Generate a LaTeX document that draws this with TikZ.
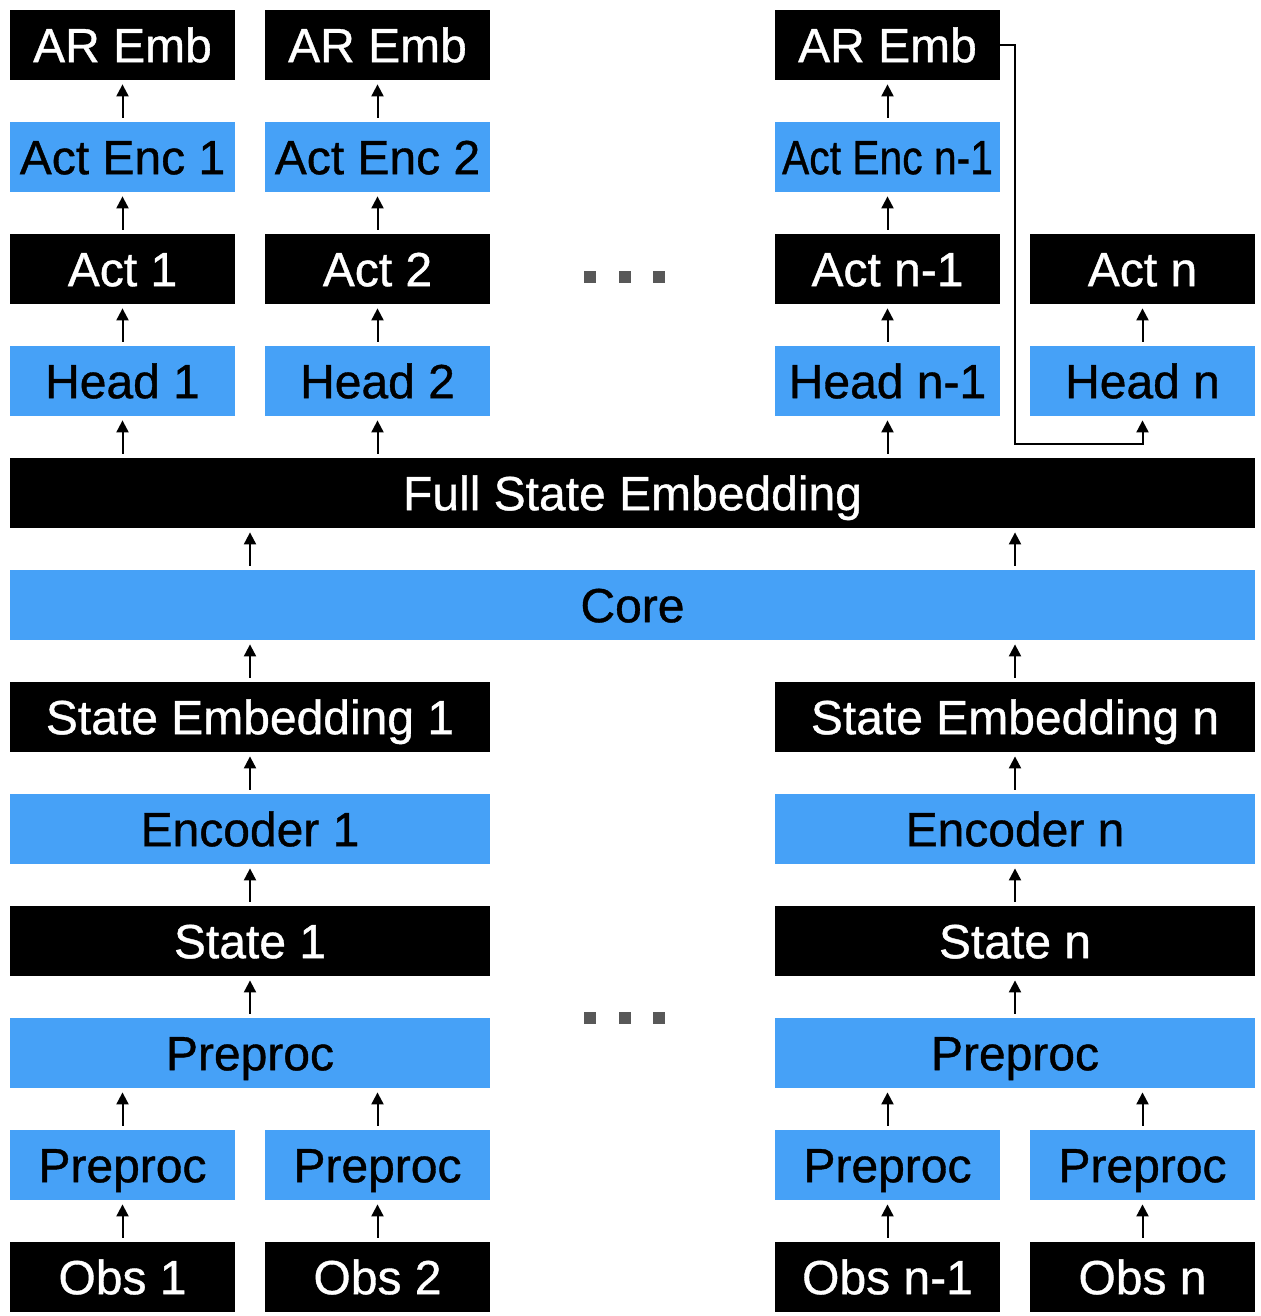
\documentclass[tikz,border=0pt]{standalone}
\usepackage{fontspec}
\setmainfont{Liberation Sans}
\newfontfamily\boxfont[FakeBold=0.8]{Liberation Sans}
\usetikzlibrary{arrows.meta}
\definecolor{boxblue}{RGB}{70,161,247}
\definecolor{dotgray}{RGB}{88,88,88}

\begin{document}
\begin{tikzpicture}[x=0.5pt, y=-0.5pt,
		blk/.style={fill=black, text=white, minimum width=112.5pt, minimum height=35pt, inner sep=0pt, text height=17.2pt, text depth=0pt, font=\boxfont\fontsize{24}{28}\selectfont},
		blu/.style={blk, fill=boxblue, text=black},
		wide/.style={minimum width=240pt},
		full/.style={minimum width=622.5pt},
		up/.style={-{Triangle[length=6pt,width=6pt]}, line width=1pt, shorten <=2pt, shorten >=2pt},
		link/.style={up, shorten <=0pt},
		dotsq/.style={fill=dotgray, minimum size=6pt, inner sep=0pt}]
			%%%%% START %%%%%
			\useasboundingbox (0,0) rectangle (1260,1316);
			
			% action columns
			\node[blk] (ar1) at (122.5,45) {AR Emb};
			\node[blu] (ae1) at (122.5,157) {Act Enc 1};
			\node[blk] (act1) at (122.5,269) {Act 1};
			\node[blu] (hd1) at (122.5,381) {Head 1};
			
			\node[blk] (ar2) at (377.5,45) {AR Emb};
			\node[blu] (ae2) at (377.5,157) {Act Enc 2};
			\node[blk] (act2) at (377.5,269) {Act 2};
			\node[blu] (hd2) at (377.5,381) {Head 2};
			
			\node[blk] (ar3) at (887.5,45) {AR Emb};
			\node[blu] (ae3) at (887.5,157) {\scalebox{0.85}[1]{Act Enc n-1}};
			\node[blk] (act3) at (887.5,269) {Act n-1};
			\node[blu] (hd3) at (887.5,381) {Head n-1};
			
			\node[blk] (act4) at (1142.5,269) {Act n};
			\node[blu] (hd4) at (1142.5,381) {Head n};
			
			\node[dotsq] (da1) at (590,277) {};
			\node[dotsq] (da2) at (624.5,277) {};
			\node[dotsq] (da3) at (659,277) {};
			
			% shared part
			\node[blk, full] (fse) at (632.5,493) {Full State Embedding};
			\node[blu, full] (core) at (632.5,605) {Core};
			
			% observation columns
			\node[blk, wide] (se1) at (250,717) {State Embedding 1};
			\node[blu, wide] (enc1) at (250,829) {Encoder 1};
			\node[blk, wide] (st1) at (250,941) {State 1};
			\node[blu, wide] (pre1) at (250,1053) {Preproc};
			\node[blu] (pp1) at (122.5,1165) {Preproc};
			\node[blu] (pp2) at (377.5,1165) {Preproc};
			\node[blk] (obs1) at (122.5,1277) {Obs 1};
			\node[blk] (obs2) at (377.5,1277) {Obs 2};
			
			\node[blk, wide] (se2) at (1015,717) {State Embedding n};
			\node[blu, wide] (enc2) at (1015,829) {Encoder n};
			\node[blk, wide] (st2) at (1015,941) {State n};
			\node[blu, wide] (pre2) at (1015,1053) {Preproc};
			\node[blu] (pp3) at (887.5,1165) {Preproc};
			\node[blu] (pp4) at (1142.5,1165) {Preproc};
			\node[blk] (obs3) at (887.5,1277) {Obs n-1};
			\node[blk] (obs4) at (1142.5,1277) {Obs n};
			
			\node[dotsq] (db1) at (590,1018) {};
			\node[dotsq] (db2) at (624.5,1018) {};
			\node[dotsq] (db3) at (659,1018) {};
			
			% arrows
			\draw[up] (ae1) -- (ar1);
			\draw[up] (act1) -- (ae1);
			\draw[up] (hd1) -- (act1);
			\draw[up] (ae2) -- (ar2);
			\draw[up] (act2) -- (ae2);
			\draw[up] (hd2) -- (act2);
			\draw[up] (ae3) -- (ar3);
			\draw[up] (act3) -- (ae3);
			\draw[up] (hd3) -- (act3);
			\draw[up] (hd4) -- (act4);
			
			\draw[up] (fse.north -| hd1) -- (hd1);
			\draw[up] (fse.north -| hd2) -- (hd2);
			\draw[up] (fse.north -| hd3) -- (hd3);
			\coordinate (bend) at (1015,444);
			\draw[link] (ar3.east) -| (bend) -| (hd4.south);
			
			\draw[up] (core.north -| se1) -- (fse.south -| se1);
			\draw[up] (core.north -| se2) -- (fse.south -| se2);
			\draw[up] (se1) -- (core.south -| se1);
			\draw[up] (se2) -- (core.south -| se2);
			
			\draw[up] (enc1) -- (se1);
			\draw[up] (st1) -- (enc1);
			\draw[up] (pre1) -- (st1);
			\draw[up] (pp1) -- (pp1 |- pre1.south);
			\draw[up] (pp2) -- (pp2 |- pre1.south);
			\draw[up] (obs1) -- (pp1);
			\draw[up] (obs2) -- (pp2);
			
			\draw[up] (enc2) -- (se2);
			\draw[up] (st2) -- (enc2);
			\draw[up] (pre2) -- (st2);
			\draw[up] (pp3) -- (pp3 |- pre2.south);
			\draw[up] (pp4) -- (pp4 |- pre2.south);
			\draw[up] (obs3) -- (pp3);
			\draw[up] (obs4) -- (pp4);
			
			%%%%% END %%%%%
		\end{tikzpicture}
\end{document}
